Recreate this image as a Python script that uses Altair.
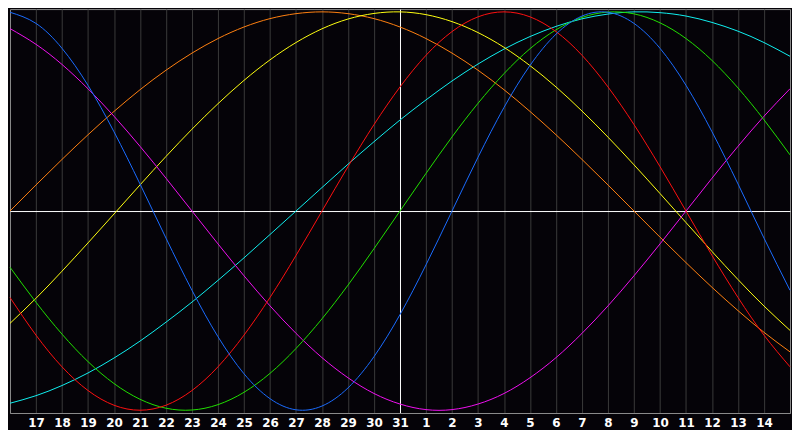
import altair as alt
import pandas as pd

# Day labels along the bottom (16 .. 31, then 1 .. 15); edges are not labelled
day_labels = ["16", "17", "18", "19", "20", "21", "22", "23", "24", "25", "26", "27",
              "28", "29", "30", "31", "1", "2", "3", "4", "5", "6", "7", "8", "9",
              "10", "11", "12", "13", "14", "15"]
day_offsets = [-15, -14, -13, -12, -11, -10, -9, -8, -7, -6, -5, -4, -3, -2, -1, 0,
               1, 2, 3, 4, 5, 6, 7, 8, 9, 10, 11, 12, 13, 14, 15]

# Curve values per day (-1 .. 1)
blue = [0.998, 0.942, 0.817, 0.631, 0.398, 0.136, -0.136, -0.398, -0.631, -0.817, -0.942,
        -0.998, -0.979, -0.888, -0.731, -0.520, -0.270, 0.000, 0.270, 0.520, 0.731, 0.888,
        0.979, 0.998, 0.942, 0.817, 0.631, 0.398, 0.136, -0.136, -0.398]
red = [-0.434, -0.623, -0.782, -0.901, -0.975, -1.000, -0.975, -0.901, -0.782, -0.623,
       -0.434, -0.223, 0.000, 0.223, 0.434, 0.623, 0.782, 0.901, 0.975, 1.000, 0.975, 0.901,
       0.782, 0.623, 0.434, 0.223, 0.000, -0.223, -0.434, -0.623, -0.782]
green = [-0.282, -0.458, -0.618, -0.756, -0.866, -0.945, -0.990, -0.999, -0.972, -0.910,
         -0.815, -0.690, -0.541, -0.372, -0.189, 0.000, 0.189, 0.372, 0.541, 0.690, 0.815,
         0.910, 0.972, 0.999, 0.990, 0.945, 0.866, 0.756, 0.618, 0.458, 0.282]
magenta = [0.916, 0.837, 0.736, 0.614, 0.476, 0.325, 0.165, 0.000, -0.165, -0.325, -0.476,
           -0.614, -0.736, -0.837, -0.916, -0.969, -0.997, -0.997, -0.969, -0.916, -0.837,
           -0.736, -0.614, -0.476, -0.325, -0.165, 0.000, 0.165, 0.325, 0.476, 0.614]
yellow = [-0.564, -0.438, -0.302, -0.160, -0.015, 0.131, 0.274, 0.411, 0.539, 0.656, 0.759,
          0.846, 0.915, 0.964, 0.992, 1.000, 0.986, 0.951, 0.896, 0.822, 0.730, 0.623,
          0.502, 0.371, 0.232, 0.088, -0.058, -0.203, -0.344, -0.477, -0.599]
orange = [0.000, 0.131, 0.259, 0.383, 0.500, 0.609, 0.707, 0.793, 0.866, 0.924, 0.966,
          0.991, 1.000, 0.991, 0.966, 0.924, 0.866, 0.793, 0.707, 0.609, 0.500, 0.383,
          0.259, 0.131, 0.000, -0.131, -0.259, -0.383, -0.500, -0.609, -0.707]
cyan = [-0.965, -0.927, -0.876, -0.813, -0.738, -0.653, -0.558, -0.457, -0.348, -0.235,
        -0.118, 0.000, 0.118, 0.235, 0.348, 0.457, 0.558, 0.653, 0.738, 0.813, 0.876,
        0.927, 0.965, 0.989, 1.000, 0.996, 0.979, 0.947, 0.903, 0.846, 0.777]

series_names = ["cyan", "orange", "yellow", "magenta", "green", "red", "blue"]
series_values = [cyan, orange, yellow, magenta, green, red, blue]
series_colors = ["#10f0f0", "#ff8010", "#ffff10", "#f010f0", "#20e000", "#ff1010", "#1a6cff"]

rows = []
for name, vals in zip(series_names, series_values):
    for t, v in zip(day_offsets, vals):
        rows.append({"t": t, "v": v, "s": name})
df = pd.DataFrame(rows)

label_expr = "''"
for off, lab in zip(day_offsets[1:-1], day_labels[1:-1]):
    label_expr = f"datum.value == {off} ? '{lab}' : ({label_expr})"

x_axis = alt.Axis(
    values=day_offsets[1:-1], labelExpr=label_expr, title=None,
    grid=True, gridWidth=1,
    gridColor={"condition": {"test": "datum.value == 0", "value": "#ffffff"},
               "value": "#3a3a3a"},
    ticks=False, domainColor="#8a8a8a", labelColor="#ffffff", labelFontSize=12,
    labelFontWeight="bold", labelFont="DejaVu Sans", labelPadding=5,
    labelOverlap=False, labelFlush=False,
)
y_axis = alt.Axis(values=[0], grid=True, gridColor="#ffffff", gridWidth=1, labels=False,
                  ticks=False, domain=False, title=None)

chart = alt.Chart(df).mark_line(strokeWidth=1, interpolate="natural").encode(
    x=alt.X("t:Q", scale=alt.Scale(domain=[-15, 15], nice=False, zero=False), axis=x_axis),
    y=alt.Y("v:Q", scale=alt.Scale(domain=[-1.014, 1.014], nice=False, zero=False),
            axis=y_axis),
    color=alt.Color("s:N", scale=alt.Scale(domain=series_names, range=series_colors),
                    legend=None),
).properties(
    width=784, height=406, padding=0, background="#050308"
).configure_view(stroke="#8a8a8a", strokeWidth=1)

chart.save("out.html", embed_options={"renderer": "svg", "actions": False})
